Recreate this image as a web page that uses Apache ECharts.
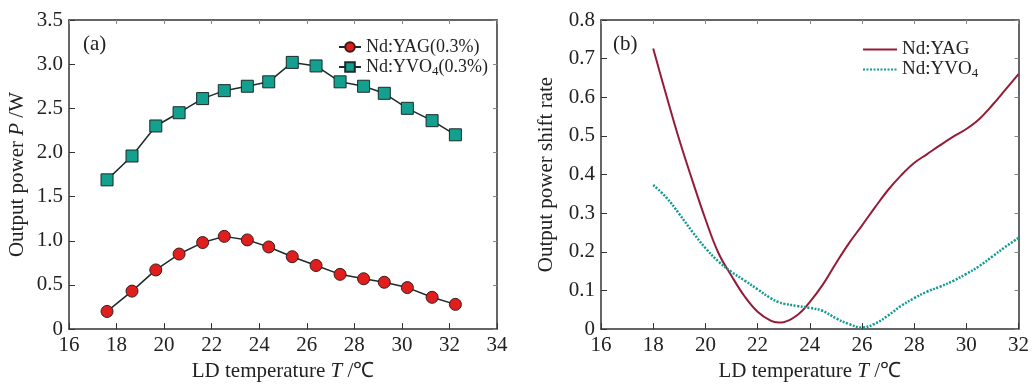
<!DOCTYPE html>
<html>
<head>
<meta charset="utf-8">
<script src="https://cdn.jsdelivr.net/npm/echarts@6/dist/echarts.min.js"></script>
<style>html,body{margin:0;padding:0;background:#fff}#c{width:1032px;height:387px}</style>
</head>
<body>
<div id="c"></div>
<script>
// Panel (a): output power vs LD temperature
const tempA = [17.6, 18.65, 19.65, 20.63, 21.62, 22.53, 23.5, 24.4, 25.39, 26.39, 27.4, 28.39, 29.26, 30.23, 31.27, 32.25];
const yagPower = [0.20, 0.43, 0.67, 0.85, 0.98, 1.05, 1.01, 0.93, 0.82, 0.72, 0.62, 0.57, 0.53, 0.47, 0.36, 0.28];
const yvoPower = [1.69, 1.96, 2.30, 2.45, 2.61, 2.70, 2.75, 2.80, 3.02, 2.98, 2.80, 2.75, 2.67, 2.50, 2.36, 2.20];
// Panel (b): output power shift rate vs LD temperature
const tempB = [18, 18.5, 19, 19.5, 20, 20.5, 21, 21.5, 22, 22.5, 22.8, 23, 23.5, 24, 24.5, 25, 25.5, 26, 26.5, 27, 27.5, 28, 28.5, 29, 29.5, 30, 30.5, 31, 31.5, 32];
const yagShift = [0.726, 0.606, 0.49, 0.385, 0.285, 0.197, 0.138, 0.085, 0.045, 0.022, 0.017, 0.018, 0.035, 0.07, 0.115, 0.17, 0.222, 0.268, 0.315, 0.36, 0.398, 0.43, 0.453, 0.476, 0.498, 0.518, 0.544, 0.58, 0.62, 0.66];
const yvoShift = [0.373, 0.341, 0.298, 0.252, 0.21, 0.175, 0.148, 0.126, 0.103, 0.08, 0.07, 0.066, 0.06, 0.055, 0.047, 0.028, 0.013, 0.004, 0.014, 0.035, 0.06, 0.08, 0.097, 0.11, 0.125, 0.143, 0.163, 0.188, 0.213, 0.236];
// Tick ranges
const xTicksA = {min: 16, max: 34, interval: 2};
const yTicksA = {min: 0, max: 3.5, interval: 0.5};
const xTicksB = {min: 16, max: 32, interval: 2};
const yTicksB = {min: 0, max: 0.8, interval: 0.1};

const FONT = 'Liberation Serif';
const TXT = '#222';
const AX = '#333';
const FS = 21;
const zip = (xs, ys) => xs.map((x, i) => [x, ys[i]]);
const fmtY = v => v === 0 ? '0' : v.toFixed(1);

function mainAxis(gi, r, pos, extra) {
  return Object.assign({
    type: 'value', gridIndex: gi, position: pos,
    min: r.min, max: r.max, interval: r.interval,
    axisLine: {show: true, onZero: false, lineStyle: {color: AX, width: 1.5}},
    axisTick: {show: true, inside: true, length: 6, lineStyle: {color: AX, width: 1}},
    splitLine: {show: false},
    axisLabel: {show: true, color: TXT, fontFamily: FONT, fontSize: FS, margin: 6},
    nameTextStyle: {color: TXT, fontFamily: FONT, fontSize: FS,
      rich: {a: {fontFamily: FONT, fontSize: FS, color: TXT}, i: {fontFamily: FONT, fontSize: FS, fontStyle: 'italic', color: TXT}}}
  }, extra || {});
}
function mirrorAxis(gi, r, pos) {
  return {
    type: 'value', gridIndex: gi, position: pos,
    min: r.min, max: r.max, interval: r.interval,
    axisLine: {show: true, onZero: false, lineStyle: {color: AX, width: 1.5}},
    axisTick: {show: true, inside: true, length: 4, lineStyle: {color: '#888', width: 1}},
    splitLine: {show: false}, axisLabel: {show: false}
  };
}
const xName = '{a|LD temperature }{i|T}{a| /℃}';
const legendText = (fs) => ({fontFamily: FONT, fontSize: fs, color: TXT,
  rich: {s: {fontFamily: FONT, fontSize: 13, color: TXT, padding: [9, 0, 0, 0]}}});

const chart = echarts.init(document.getElementById('c'), null, {renderer: 'canvas'});
chart.setOption({
  backgroundColor: '#fff',
  animation: false,
  title: [
    {text: '(a)', left: 78, top: 29, textStyle: {fontFamily: FONT, fontSize: FS, fontWeight: 'normal', color: TXT}},
    {text: '(b)', left: 608, top: 29, textStyle: {fontFamily: FONT, fontSize: FS, fontWeight: 'normal', color: TXT}}
  ],
  grid: [
    {left: 69, right: 535, top: 20, bottom: 53},
    {left: 601, right: 10, top: 20, bottom: 50}
  ],
  legend: [
    {
      orient: 'vertical', left: 333, top: 33, itemGap: 2, itemWidth: 22, itemHeight: 12,
      data: ['Nd:YAG(0.3%)', 'Nd:YVO4(0.3%)'],
      formatter: n => n.replace('YVO4', 'YVO{s|4}'),
      textStyle: legendText(18)
    },
    {
      orient: 'vertical', left: 857, top: 35, itemGap: 1, itemWidth: 34, itemHeight: 12,
      data: ['Nd:YAG', 'Nd:YVO4'],
      itemStyle: {opacity: 0},
      formatter: n => n.replace('YVO4', 'YVO{s|4}'),
      textStyle: legendText(19)
    }
  ],
  xAxis: [
    mainAxis(0, xTicksA, 'bottom', {name: xName, nameLocation: 'middle', nameGap: 27}),
    mirrorAxis(0, xTicksA, 'top'),
    mainAxis(1, xTicksB, 'bottom', {name: xName, nameLocation: 'middle', nameGap: 24}),
    mirrorAxis(1, xTicksB, 'top')
  ],
  yAxis: [
    mainAxis(0, yTicksA, 'left', {name: '{a|Output power }{i|P}{a| /W}', nameLocation: 'middle', nameGap: 41,
      axisLabel: {color: TXT, fontFamily: FONT, fontSize: FS, margin: 6, formatter: fmtY}}),
    mirrorAxis(0, yTicksA, 'right'),
    mainAxis(1, yTicksB, 'left', {name: 'Output power shift rate', nameLocation: 'middle', nameGap: 44,
      axisLabel: {color: TXT, fontFamily: FONT, fontSize: FS, margin: 6, formatter: fmtY}}),
    mirrorAxis(1, yTicksB, 'right')
  ],
  series: [
    {
      name: 'Nd:YAG(0.3%)', type: 'line', xAxisIndex: 0, yAxisIndex: 0,
      data: zip(tempA, yagPower), symbol: 'circle', symbolSize: 12,
      lineStyle: {color: '#1e2a2a', width: 1.5},
      itemStyle: {color: '#e01e1e', borderColor: '#3a1a1a', borderWidth: 1}
    },
    {
      name: 'Nd:YVO4(0.3%)', type: 'line', xAxisIndex: 0, yAxisIndex: 0,
      data: zip(tempA, yvoPower), symbol: 'rect', symbolSize: 12,
      lineStyle: {color: '#1e2a2a', width: 1.5},
      itemStyle: {color: '#13a08f', borderColor: '#1a2a2a', borderWidth: 1}
    },
    {
      name: 'Nd:YAG', type: 'line', xAxisIndex: 2, yAxisIndex: 2,
      data: zip(tempB, yagShift), symbol: 'none', smooth: 0.4,
      lineStyle: {color: '#951c38', width: 2},
      itemStyle: {color: '#c0202a'}
    },
    {
      name: 'Nd:YVO4', type: 'line', xAxisIndex: 2, yAxisIndex: 2,
      data: zip(tempB, yvoShift), symbol: 'none', smooth: 0.4,
      lineStyle: {color: '#139a94', width: 2.5, type: [2, 1.5]},
      itemStyle: {color: '#19a8a0'}
    }
  ]
});
</script>
</body>
</html>
